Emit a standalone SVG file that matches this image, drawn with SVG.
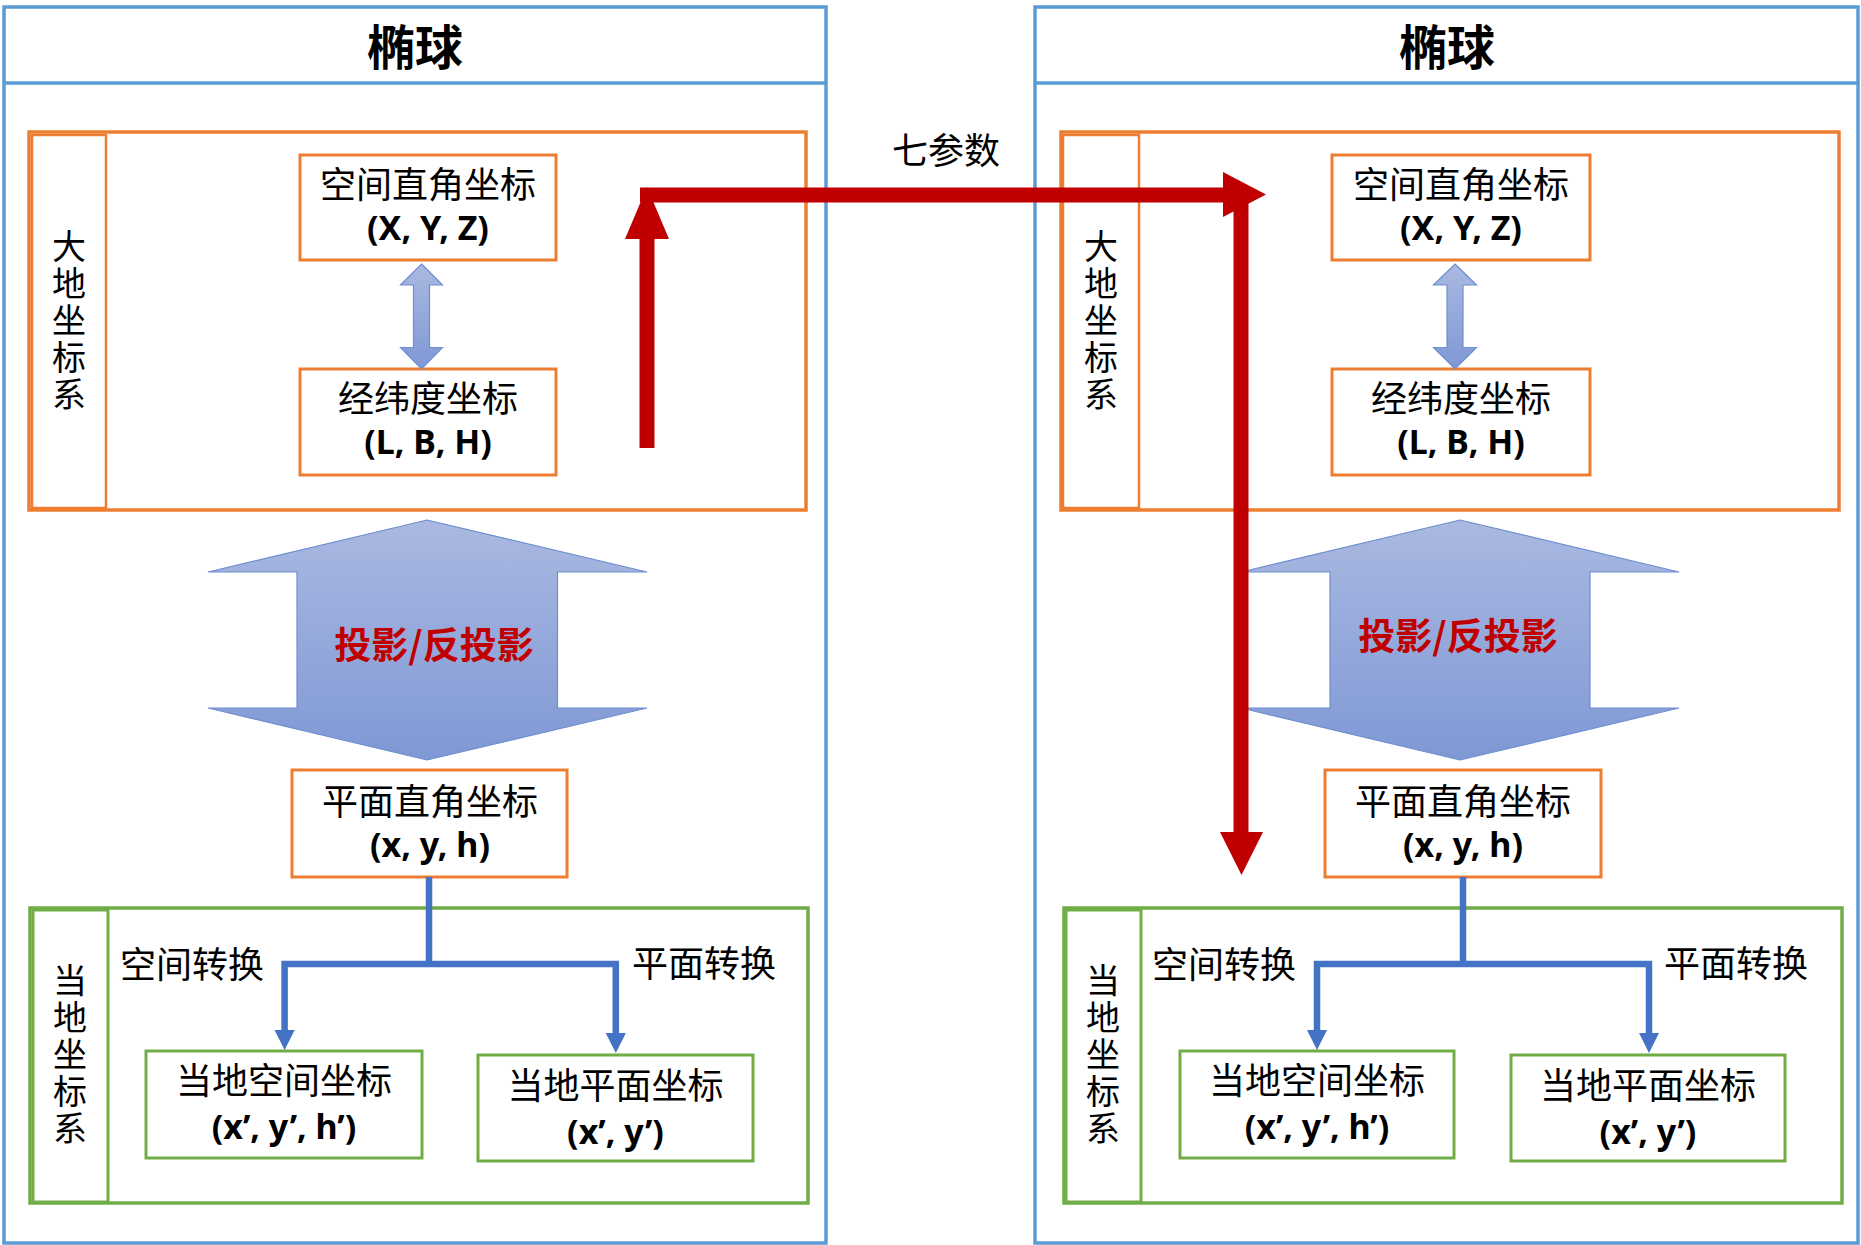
<svg xmlns="http://www.w3.org/2000/svg" width="1861" height="1245" viewBox="0 0 1861 1245">
<defs>
<linearGradient id="bg" x1="0" y1="0" x2="0" y2="1">
<stop offset="0" stop-color="#AAB9E1"/>
<stop offset="1" stop-color="#7F98D5"/>
</linearGradient>
<style>
.outer{fill:#fff;stroke:#5B9BD5;stroke-width:3.5}
.org{fill:none;stroke:#ED7D31;stroke-width:3.5}
.orgbox{fill:#fff;stroke:#ED7D31;stroke-width:3}
.grn{fill:none;stroke:#70AD47;stroke-width:3.5}
.grnbox{fill:#fff;stroke:#70AD47;stroke-width:3}
.barrow{fill:url(#bg);stroke:#6E8ED0;stroke-width:1.2}
.t{font-family:"Noto Sans CJK SC","Liberation Sans",sans-serif;font-size:36px;fill:#000}
.c{text-anchor:middle}
.v{font-family:"Noto Sans CJK SC",sans-serif;font-size:34px;fill:#000;writing-mode:vertical-rl;text-anchor:middle;letter-spacing:3px}
.lat{font-family:"Noto Sans","Liberation Sans",sans-serif;font-size:34px;font-weight:bold}
.title{font-family:"Noto Sans CJK SC",sans-serif;font-size:48px;font-weight:bold;text-anchor:middle;fill:#000}
.red{stroke:#C00000;stroke-width:15;fill:none}
.redh{fill:#C00000}
.blue{stroke:#4472C4;stroke-width:6.5;fill:none}
.blueh{fill:#4472C4}
.proj{font-family:"Noto Sans CJK SC",sans-serif;font-size:37px;font-weight:bold;fill:#C00000;text-anchor:middle}
</style>
</defs>

<!-- Left ellipsoid -->
<g id="ellipsoid-left">
<rect class="outer" x="4" y="7" width="822" height="1236"/>
<line x1="4" y1="83" x2="826" y2="83" stroke="#5B9BD5" stroke-width="3.5"/>
<text class="title" x="415" y="65">椭球</text>
</g>
<g id="geodetic-left">
<rect class="org" x="29" y="132" width="777" height="378"/>
<rect class="org" x="32" y="135" width="74" height="373" style="stroke-width:2.5"/>
<text class="v" x="69" y="322">大地坐标系</text>
</g>
<g id="xyz-left">
<rect class="orgbox" x="300" y="155" width="256" height="105"/>
<text class="t c" x="428" y="198">空间直角坐标<tspan class="lat" x="428" dy="42">(X, Y, Z)</tspan></text>
</g>
<g id="lbh-left">
<rect class="orgbox" x="300" y="369" width="256" height="106"/>
<text class="t c" x="428" y="412">经纬度坐标<tspan class="lat" x="428" dy="42">(L, B, H)</tspan></text>
</g>
<g id="dbl-left">
<polygon class="barrow" points="421.5,264 442.5,285 429.5,285 429.5,347.5 442.5,347.5 421.5,369 400.5,347.5 413.5,347.5 413.5,285 400.5,285"/>
</g>
<g id="proj-left">
<polygon class="barrow" points="427,520 647,572 557.5,572 557.5,708 647,708 427,760 208,708 297,708 297,572 208,572"/>
<text class="proj" x="434" y="659">投影/反投影</text>
</g>
<g id="xyh-left">
<rect class="orgbox" x="292" y="770" width="275" height="107"/>
<text class="t c" x="430" y="815">平面直角坐标<tspan class="lat" x="430" dy="42">(x, y, h)</tspan></text>
</g>
<g id="local-left">
<rect class="grn" x="30" y="908" width="778" height="295"/>
<rect class="grn" x="33" y="910" width="75" height="292" style="stroke-width:3"/>
<text class="v" x="70" y="1056">当地坐标系</text>
<text class="t" x="120" y="978">空间转换</text>
<text class="t" x="632" y="977">平面转换</text>
</g>
<g id="lspace-left">
<rect class="grnbox" x="146" y="1051" width="276" height="107"/>
<text class="t c" x="284" y="1094">当地空间坐标<tspan class="lat" x="284" dy="45">(x’, y’, h’)</tspan></text>
</g>
<g id="lplane-left">
<rect class="grnbox" x="478" y="1055" width="275" height="106"/>
<text class="t c" x="615.5" y="1099">当地平面坐标<tspan class="lat" x="615.5" dy="45">(x’, y’)</tspan></text>
</g>

<!-- Right ellipsoid -->
<g id="ellipsoid-right">
<rect class="outer" x="1035" y="7" width="823" height="1236"/>
<line x1="1035" y1="83" x2="1858" y2="83" stroke="#5B9BD5" stroke-width="3.5"/>
<text class="title" x="1447" y="65">椭球</text>
</g>
<g id="geodetic-right">
<rect class="org" x="1061" y="132" width="778" height="378"/>
<rect class="org" x="1063" y="135" width="76" height="373" style="stroke-width:2.5"/>
<text class="v" x="1101" y="322">大地坐标系</text>
</g>
<g id="xyz-right">
<rect class="orgbox" x="1332" y="155" width="258" height="105"/>
<text class="t c" x="1461" y="198">空间直角坐标<tspan class="lat" x="1461" dy="42">(X, Y, Z)</tspan></text>
</g>
<g id="lbh-right">
<rect class="orgbox" x="1332" y="369" width="258" height="106"/>
<text class="t c" x="1461" y="412">经纬度坐标<tspan class="lat" x="1461" dy="42">(L, B, H)</tspan></text>
</g>
<g id="dbl-right">
<polygon class="barrow" points="1455,264 1476.5,285 1463,285 1463,347.5 1476.5,347.5 1455,369 1433.5,347.5 1447,347.5 1447,285 1433.5,285"/>
</g>
<g id="proj-right">
<polygon class="barrow" points="1460,520 1679,572 1590,572 1590,708 1679,708 1460,760 1241,708 1330,708 1330,572 1241,572"/>
<text class="proj" x="1458" y="650">投影/反投影</text>
</g>
<g id="xyh-right">
<rect class="orgbox" x="1325" y="770" width="276" height="107"/>
<text class="t c" x="1463" y="815">平面直角坐标<tspan class="lat" x="1463" dy="42">(x, y, h)</tspan></text>
</g>
<g id="local-right">
<rect class="grn" x="1064" y="908" width="778" height="295"/>
<rect class="grn" x="1066" y="910" width="75" height="292" style="stroke-width:3"/>
<text class="v" x="1103" y="1056">当地坐标系</text>
<text class="t" x="1152" y="978">空间转换</text>
<text class="t" x="1664" y="977">平面转换</text>
</g>
<g id="lspace-right">
<rect class="grnbox" x="1180" y="1051" width="274" height="107"/>
<text class="t c" x="1317" y="1094">当地空间坐标<tspan class="lat" x="1317" dy="45">(x’, y’, h’)</tspan></text>
</g>
<g id="lplane-right">
<rect class="grnbox" x="1511" y="1055" width="274" height="106"/>
<text class="t c" x="1648" y="1099">当地平面坐标<tspan class="lat" x="1648" dy="45">(x’, y’)</tspan></text>
</g>

<!-- Connectors -->
<g id="connectors">
<path class="blue" d="M429,877 V964"/>
<path class="blue" d="M284.6,1032 V964 H615.8 V1035"/>
<polygon class="blueh" points="274.5,1030 294.7,1030 284.6,1050"/>
<polygon class="blueh" points="605.7,1033 625.9,1033 615.8,1053"/>
<path class="blue" d="M1463,877 V964"/>
<path class="blue" d="M1317,1032 V964 H1649 V1035"/>
<polygon class="blueh" points="1307,1030 1327,1030 1317,1050"/>
<polygon class="blueh" points="1639,1033 1659,1033 1649,1053"/>

<path class="red" d="M647,448 V237"/>
<polygon class="redh" points="647,187 669,239 625,239"/>
<path class="red" d="M640,195 H1226"/>
<polygon class="redh" points="1266,194.5 1223,172 1223,217"/>
<path class="red" d="M1241,201 V835"/>
<polygon class="redh" points="1220,832 1263,832 1241.5,875"/>
<text class="t" x="892" y="164">七参数</text>
</g>
</svg>
